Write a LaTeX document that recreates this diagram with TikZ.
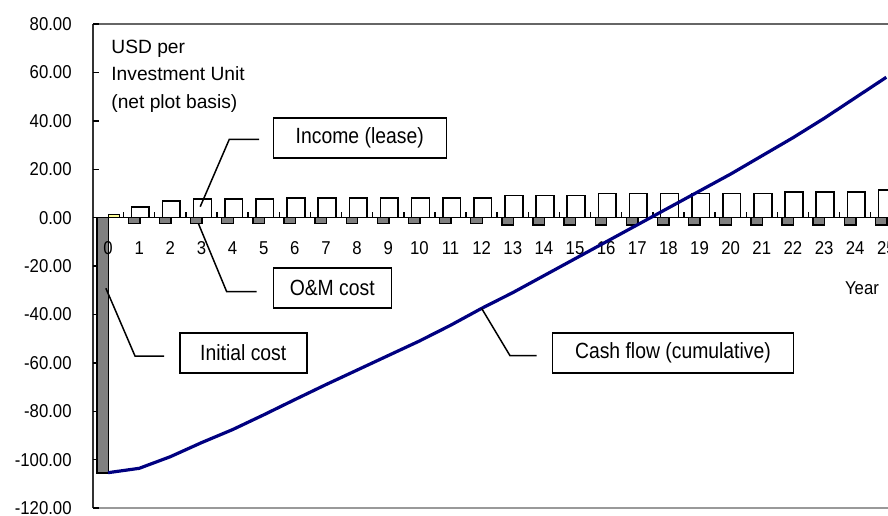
\documentclass[tikz,border=0pt]{standalone}
\usepackage{fontspec}
\setmainfont[FakeStretch=0.9]{Liberation Sans}
\newfontfamily\calloutfont[FakeStretch=0.88]{Liberation Sans}
\newfontfamily\unitfont{Liberation Sans}
\definecolor{cashblue}{HTML}{000080}
\definecolor{barGray}{HTML}{808080}
\definecolor{startYellow}{HTML}{FFFF99}
\tikzset{
  incomebar/.style={draw=black, fill=white, line width=0.8pt},
  costbar/.style={draw=black, fill=barGray, line width=0.7pt},
  cashline/.style={draw=cashblue, line width=1.6pt, line join=round},
  calloutbox/.style={draw=black, line width=0.75pt, minimum height=20pt, inner sep=0pt,
    font=\calloutfont\fontsize{11}{13}\selectfont},
  callout/.style={draw=black, line width=0.75pt},
  ticklabel/.style={inner sep=0pt}
}
\begin{document}
\begin{tikzpicture}[x=0.5pt, y=-0.5pt, font=\fontsize{9.3}{13.6}\selectfont]
\useasboundingbox (0,0) rectangle (888,515);
% plot frame
\draw[black!60, line width=0.7pt] (93,24) -- (888,24);
\draw[black!40, line width=1pt] (93,508) -- (888,508);
\draw[black!80, line width=0.8pt] (93,24) -- (93,508);
% value axis
\foreach \v/\t in {80/80.00, 60/60.00, 40/40.00, 20/20.00, 0/0.00,
                   -20/-20.00, -40/-40.00, -60/-60.00, -80/-80.00,
                   -100/-100.00, -120/-120.00} {
  \draw[line width=0.7pt] (93,{217.6-2.42*(\v)}) -- ++(6,0);
  \node[ticklabel, anchor=east] at (72,{217.6-2.42*(\v)}) {\t};
}
% data area: one unit per year, one unit per USD
\begin{scope}[shift={(92.5,217.6)}, x=15.565pt, y=1.21pt]
  \foreach \i/\inc/\om in {1/4.5/-2.4, 2/6.9/-2.4, 3/7.7/-2.4, 4/7.7/-2.4,
      5/7.7/-2.4, 6/8.0/-2.4, 7/8.0/-2.4, 8/8.0/-2.4, 9/8.0/-2.4,
      10/8.0/-2.4, 11/8.0/-2.4, 12/8.0/-2.4, 13/9.2/-3.0, 14/9.2/-3.0,
      15/9.2/-3.0, 16/10.0/-3.0, 17/10.0/-3.0, 18/10.0/-3.0, 19/10.0/-3.0,
      20/10.0/-3.0, 21/10.0/-3.0, 22/10.6/-3.0, 23/10.6/-3.0, 24/10.6/-3.0,
      25/11.4/-3.0} {
    \draw[costbar] (\i+0.15,0) rectangle (\i+0.52,\om);
    \draw[incomebar] (\i+0.25,0) rectangle (\i+0.82,\inc);
  }
  % year 0
  \draw[costbar] (0.15,0) rectangle (0.52,-105.6);
  \draw[draw=black, fill=startYellow, line width=0.6pt] (0.52,0) rectangle (0.86,1.3);
  % category axis
  \draw[line width=0.8pt] (0,0) -- (26,0);
  \foreach \i in {1,...,26}
    \draw[line width=0.7pt] (\i,0) -- (\i,2.5);
  \foreach \i in {0,...,25}
    \node[ticklabel] at (\i+0.5,-12.6) {\i};
  % cumulative cash flow
  \draw[cashline] plot coordinates {(0.5,-105.4) (1.5,-103.6) (2.5,-98.8)
      (3.5,-93) (4.5,-87.6) (5.5,-81.5) (6.5,-75.2) (7.5,-69) (8.5,-63)
      (9.5,-57) (10.5,-51) (11.5,-44.5) (12.5,-37.5) (13.5,-31) (14.5,-24)
      (15.5,-17) (16.5,-10) (17.5,-3) (18.5,4) (19.5,11) (20.5,18)
      (21.5,25.5) (22.5,33) (23.5,41) (24.5,49.5) (25.5,58)};
  \coordinate (incomept) at (3.46,4.5);
  \coordinate (ompt) at (3.40,-2.4);
  \coordinate (initialpt) at (0.43,-29.2);
  \coordinate (cashpt) at (12.5,-37.5);
\end{scope}
% texts
\node[anchor=north west, align=left, inner sep=0pt,
  font=\unitfont\fontsize{9.6}{13.7}\selectfont] (unit) at (111,39.5)
  {USD per\\Investment Unit\\(net plot basis)};
\node (year) at (862,288) {Year};
% callouts
\node[calloutbox, minimum width=86.5pt, anchor=west] (income) at (272.5,138) {Income (lease)};
\node[calloutbox, minimum width=59pt, anchor=west] (omcost) at (272.5,288) {O\&M cost};
\node[calloutbox, minimum width=63.5pt, anchor=west] (initial) at (179,353) {Initial cost};
\node[calloutbox, minimum width=120.5pt, anchor=west] (cashflow) at (551.7,353) {Cash flow (cumulative)};
\coordinate (incomeknee) at (229.3,139.3);
\coordinate (omknee) at (226.7,291.7);
\coordinate (initialknee) at (135,356);
\coordinate (cashknee) at (510,355.7);
\draw[callout] (incomept) -- (incomeknee) -- (incomeknee -| 259,0);
\draw[callout] (ompt) -- (omknee) -- (omknee -| 256.7,0);
\draw[callout] (initialpt) -- (initialknee) -- (initialknee -| 164,0);
\draw[callout] (cashpt) -- (cashknee) -- (cashknee -| 536.7,0);
\end{tikzpicture}
\end{document}
